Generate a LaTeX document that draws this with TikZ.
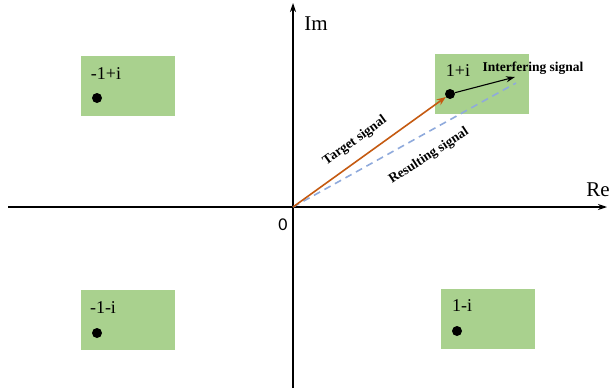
\documentclass[tikz,border=0pt]{standalone}
\usepackage{fontspec}
\setmainfont{Liberation Serif}
\newfontfamily\calfont{Carlito}
\usetikzlibrary{arrows.meta}
\definecolor{qamgreen}{HTML}{A9D18E}
\definecolor{targetorange}{HTML}{C55A11}
\definecolor{resultblue}{HTML}{8FAADC}
\begin{document}
\begin{tikzpicture}[x=1pt,y=-1pt,
        qambox/.style={fill=qamgreen, minimum width=94pt, minimum height=60pt, inner sep=0pt},
        symdot/.style={circle, fill=black, minimum size=10pt, inner sep=0pt},
        symlabel/.style={font=\fontsize{18}{20}\selectfont, inner sep=0pt},
        axislabel/.style={font=\fontsize{21}{24}\selectfont, inner sep=0pt},
        sigtext/.style={font=\bfseries\fontsize{13.5}{15}\selectfont, inner sep=0pt},
        axisline/.style={draw, line width=1.1pt, -{Stealth[length=9pt,width=6pt]}},
    ]
    \useasboundingbox (0,0) rectangle (610,388);
    % constellation boxes
    \node[qambox](pp) at (482,83.5){};
    \node[qambox](mp) at (128,85.5){};
    \node[qambox](mm) at (128,320){};
    \node[qambox](pm) at (488,318.5){};
    % axes
    \coordinate (o) at (293,207);
    \coordinate (xl) at (8,207);
    \coordinate (xr) at (607,207);
    \coordinate (yb) at (293,388);
    \coordinate (yt) at (293,3);
    \draw[axisline] (xl) -- (xr);
    \draw[axisline] (yb) -- (yt);
    \node[axislabel](im) at (316,24){Im};
    \node[axislabel](re) at (598,190){Re};
    \node[font=\calfont\fontsize{18}{20}\selectfont, inner sep=0pt](zero) at (283,225){0};
    % symbols
    \node[symdot](ppd) at (450,94){};
    \node[symdot](mpd) at (97,98){};
    \node[symdot](mmd) at (97,333){};
    \node[symdot](pmd) at (457,331){};
    \node[symlabel](ppl) at (458,71){1+i};
    \node[symlabel](mpl) at (106,74){-1+i};
    \node[symlabel](mml) at (103,308){-1-i};
    \node[symlabel](pml) at (462,306){1-i};
    % signals
    \coordinate (res) at (516,83);
    \coordinate (intf) at (515,77);
    \draw[resultblue, line width=1.6pt, dash pattern=on 7pt off 5pt] (o) -- (res);
    \draw[targetorange, line width=1.6pt, -{Stealth[length=9pt,width=7pt]}] (o) -- (ppd);
    \draw[line width=1.1pt, -{Stealth[length=9pt,width=6pt]}] (ppd) -- (intf);
    \node[sigtext, rotate=35.7](tgt) at (355,141){Target signal};
    \node[sigtext, rotate=33](rsl) at (429,156){Resulting signal};
    \node[sigtext](itf) at (533,68){Interfering signal};
\end{tikzpicture}
\end{document}
